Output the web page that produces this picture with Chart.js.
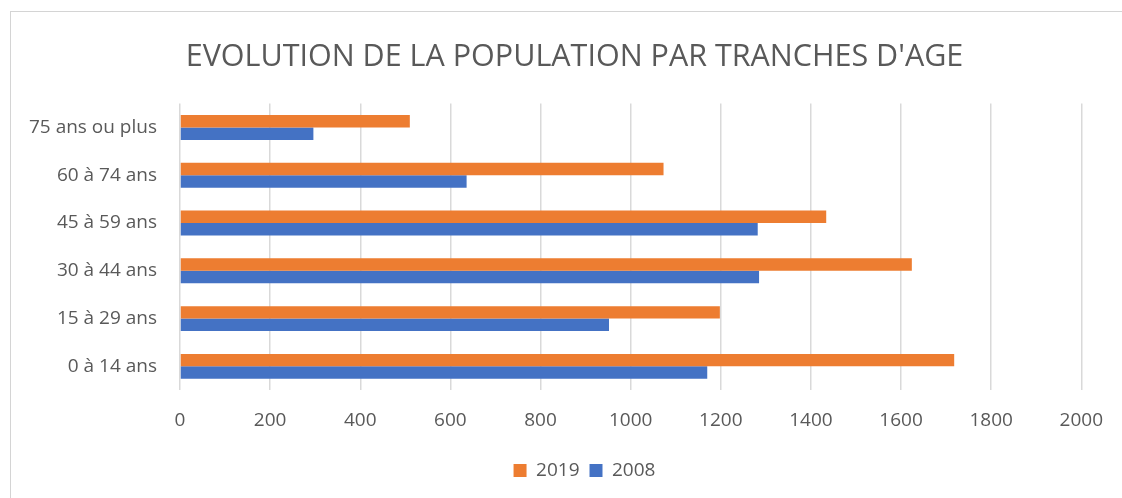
<!DOCTYPE html>
<html>
<head>
<meta charset="utf-8">
<script src="https://cdn.jsdelivr.net/npm/chart.js"></script>
<style>
  html, body { margin: 0; padding: 0; background: #fff; }
  #wrap { position: relative; width: 1122px; height: 498px; overflow: hidden; }
  #frame { position: absolute; left: 10px; top: 11px; width: 1300px; height: 700px;
           border-left: 1px solid #d4d4d4; border-top: 1px solid #d4d4d4; }
  canvas { position: absolute; left: 0; top: 0; }
</style>
</head>
<body>
<div id="wrap">
  <div id="frame"></div>
  <canvas id="chart" width="1122" height="498"></canvas>
</div>
<script>
  // tranches d'âge, du haut vers le bas
  const categories = ['75 ans ou plus', '60 à 74 ans', '45 à 59 ans', '30 à 44 ans', '15 à 29 ans', '0 à 14 ans'];
  const values2019 = [510, 1073, 1434, 1624, 1198, 1718];
  const values2008 = [296, 636, 1282, 1285, 952, 1170];
  const xTicks = [0, 200, 400, 600, 800, 1000, 1200, 1400, 1600, 1800, 2000];

  const textColor = '#595959';
  const fontFamily = "'Open Sans', 'Liberation Sans', sans-serif";

  // décale titre et légende pour les centrer comme dans l'original
  const shiftBoxes = {
    id: 'shiftBoxes',
    afterLayout(chart) {
      chart.legend.left += 40;
      chart.legend.right += 40;
      chart.titleBlock.left += 30;
      chart.titleBlock.right += 30;
    }
  };

  const ctx = document.getElementById('chart').getContext('2d');
  new Chart(ctx, {
    type: 'bar',
    data: {
      labels: categories,
      datasets: [
        { label: '2019', data: values2019, backgroundColor: '#ED7D31', borderWidth: 0,
          categoryPercentage: 0.52, barPercentage: 1 },
        { label: '2008', data: values2008, backgroundColor: '#4472C4', borderWidth: 0,
          categoryPercentage: 0.52, barPercentage: 1 }
      ]
    },
    options: {
      indexAxis: 'y',
      responsive: false,
      animation: false,
      layout: { padding: { left: 0, right: 33, top: 0, bottom: 8 } },
      scales: {
        x: {
          min: 0, max: 2000,
          afterBuildTicks: (scale) => { scale.ticks = xTicks.map(v => ({ value: v })); },
          grid: { color: '#d9d9d9', lineWidth: 1.5, drawTicks: false },
          border: { display: false },
          ticks: { color: textColor, padding: 19, font: { family: fontFamily, size: 19 },
                   callback: (v) => String(v) }
        },
        y: {
          afterFit: (scale) => { scale.width = 180; },
          grid: { display: false, drawTicks: false },
          border: { display: false },
          ticks: { color: textColor, padding: 23, font: { family: fontFamily, size: 19 } }
        }
      },
      plugins: {
        title: {
          display: true,
          text: "EVOLUTION DE LA POPULATION PAR TRANCHES D'AGE",
          color: textColor,
          font: { family: fontFamily, size: 30.5, weight: 'normal', lineHeight: 1.2 },
          padding: { top: 39, bottom: 28 }
        },
        legend: {
          position: 'bottom',
          labels: { color: textColor, boxWidth: 13, boxHeight: 13, padding: 10,
                    font: { family: fontFamily, size: 19 } }
        },
        tooltip: { enabled: false }
      }
    },
    plugins: [shiftBoxes]
  });
</script>
</body>
</html>
